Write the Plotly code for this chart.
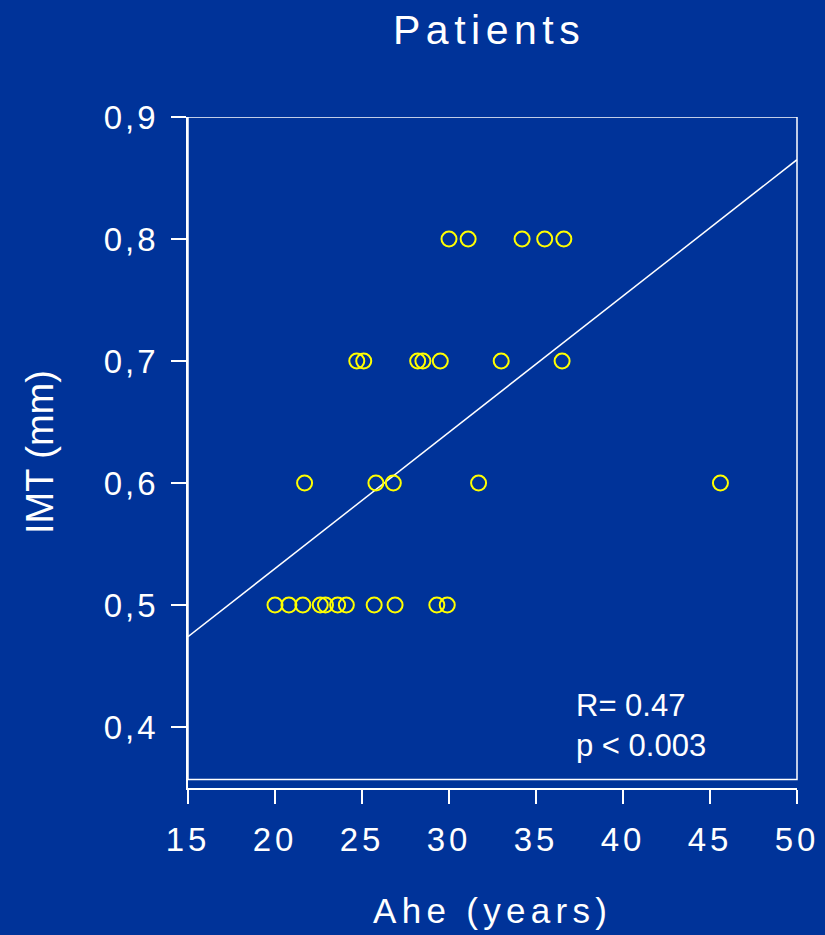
import plotly.graph_objects as go

# Data
age_05 = [20.0, 20.8, 21.6, 22.6, 22.9, 23.6, 24.1, 25.7, 26.9, 29.3, 29.9]
age_06 = [21.7, 25.8, 26.8, 31.7, 45.6]
age_07 = [24.7, 25.1, 28.2, 28.5, 29.5, 33.0, 36.5]
age_08 = [30.0, 31.1, 34.2, 35.5, 36.6]
imt_levels = [0.5, 0.6, 0.7, 0.8]

fit_x = [15, 50]
fit_y = [0.474, 0.865]

x_ticks = [15, 20, 25, 30, 35, 40, 45, 50]
y_ticks = [0.4, 0.5, 0.6, 0.7, 0.8, 0.9]
y_ticklabels = ["0,4", "0,5", "0,6", "0,7", "0,8", "0,9"]

BG = "rgb(0,51,153)"
FONT = "Liberation Sans, Arial, sans-serif"

xs, ys = [], []
for lvl, arr in zip(imt_levels, [age_05, age_06, age_07, age_08]):
    xs += arr
    ys += [lvl] * len(arr)

def sp(t, px):
    return f'<span style="letter-spacing:{px}px">{t}</span>'

fig = go.Figure()
fig.add_trace(go.Scatter(x=fit_x, y=fit_y, mode="lines",
                         line=dict(color="white", width=1.5), hoverinfo="skip"))
fig.add_trace(go.Scatter(x=xs, y=ys, mode="markers",
                         marker=dict(symbol="circle-open", size=15, color="#FFFF00",
                                     line=dict(width=2, color="#FFFF00"))))

fig.update_layout(
    width=825, height=935,
    paper_bgcolor=BG, plot_bgcolor=BG,
    margin=dict(l=188, r=28, t=117, b=147, autoexpand=False),
    showlegend=False,
    font=dict(family=FONT, color="white"),
    xaxis=dict(range=[15, 50], tickvals=x_ticks, ticktext=[sp(str(v), 4) for v in x_ticks],
               automargin=False,
               showgrid=False, zeroline=False, showline=True, linecolor="white", linewidth=1.5,
               ticks="outside", ticklen=14, tickwidth=1.5, tickcolor="white",
               tickfont=dict(size=33, color="white"), ticklabelstandoff=8),
    yaxis=dict(range=[0.35, 0.9], tickvals=y_ticks, ticktext=[sp(t, 3) for t in y_ticklabels],
               automargin=False,
               showgrid=False, zeroline=False, showline=True, linecolor="white", linewidth=1.5,
               ticks="outside", ticklen=15, tickwidth=1.5, tickcolor="white",
               tickfont=dict(size=33, color="white"), ticklabelstandoff=6),
    shapes=[dict(type="rect", xref="paper", x0=0, x1=1, yref="y", y0=0.357, y1=0.9,
                 line=dict(color="white", width=1.5), layer="above")],
    annotations=[
        dict(text=sp("Patients", 5.5), xref="paper", yref="paper", x=0.495, y=1 + (117 - 30) / 671,
             showarrow=False, xanchor="center", yanchor="middle", font=dict(size=41, color="white")),
        dict(text=sp("Ahe (years)", 5.3), xref="paper", yref="paper", x=0.5, y=(788 - 910) / 671,
             showarrow=False, xanchor="center", yanchor="middle", font=dict(size=35, color="white")),
        dict(text="IMT (mm)", xref="paper", yref="paper", x=(40 - 188) / 609, y=(788 - 452) / 671,
             showarrow=False, xanchor="center", yanchor="middle", textangle=-90,
             font=dict(size=38, color="white")),
        dict(text="R= 0.47<br>p &lt; 0.003", xref="x", yref="y", x=37.2, y=0.4016,
             showarrow=False, xanchor="left", yanchor="middle", align="left",
             font=dict(size=31, color="white")),
    ],
)

fig.write_html("out.html")
